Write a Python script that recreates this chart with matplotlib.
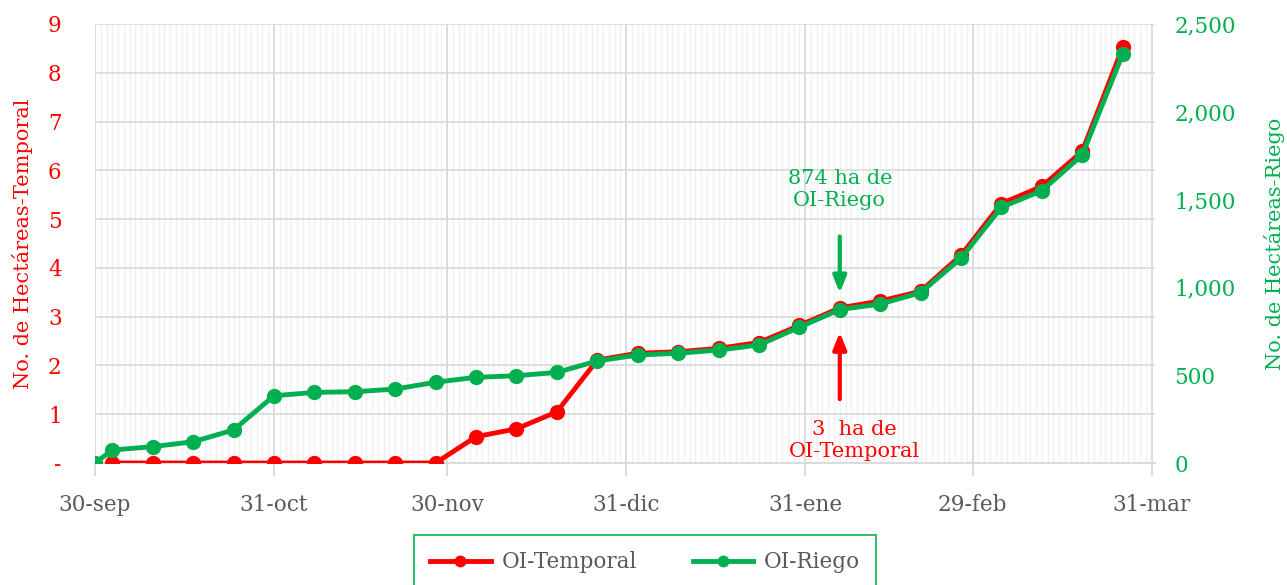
import matplotlib
matplotlib.use("Agg")
import matplotlib.pyplot as plt
import matplotlib.dates as mdates
from matplotlib.ticker import FuncFormatter, MultipleLocator
import datetime as dt

# ---- data ----
temporal_dates = ["2023-10-03", "2023-10-10", "2023-10-17", "2023-10-24", "2023-10-31",
                  "2023-11-07", "2023-11-14", "2023-11-21", "2023-11-28", "2023-12-05",
                  "2023-12-12", "2023-12-19", "2023-12-26", "2024-01-02", "2024-01-09",
                  "2024-01-16", "2024-01-23", "2024-01-30", "2024-02-06", "2024-02-13",
                  "2024-02-20", "2024-02-27", "2024-03-05", "2024-03-12", "2024-03-19",
                  "2024-03-26"]
temporal_values = [0, 0, 0, 0, 0, 0, 0, 0, 0, 0.54, 0.70, 1.05, 2.11, 2.25, 2.28, 2.35,
                   2.47, 2.82, 3.18, 3.32, 3.52, 4.26, 5.32, 5.67, 6.39, 8.52]

riego_dates = ["2023-09-30"] + temporal_dates
riego_values = [0, 74, 93, 121, 188, 383, 402, 406, 421, 460, 488, 497, 516, 581, 615, 625,
                643, 672, 773, 874, 905, 970, 1166, 1456, 1551, 1754, 2329]

month_ticks = ["2023-09-30", "2023-10-31", "2023-11-30", "2023-12-31", "2024-01-31",
               "2024-02-29", "2024-03-31"]
month_labels = ["30-sep", "31-oct", "30-nov", "31-dic", "31-ene", "29-feb", "31-mar"]

RED = "#FF0000"
GREEN = "#00B050"
GRAY_TXT = "#595959"

plt.rcParams['font.family'] = ['DejaVu Serif']

def to_dt(lst):
    return [dt.datetime.strptime(s, "%Y-%m-%d") for s in lst]

td = to_dt(temporal_dates)
rd = to_dt(riego_dates)
mt = to_dt(month_ticks)

fig = plt.figure(figsize=(12.87, 5.85), dpi=100)
ax = fig.add_axes([95/1287, 122/585, 1060/1287, 439/585])
ax2 = ax.twinx()

# grids
ax.set_xlim(mt[0], mt[-1] + dt.timedelta(days=0.6))
ax.xaxis.set_minor_locator(mdates.DayLocator())
ax.set_xticks(mt)
ax.set_xticklabels(month_labels)
ax.grid(which='minor', axis='x', color='#F0F0F0', lw=1.0, zorder=0)
ax.grid(which='major', axis='x', color='#D9D9D9', lw=1.3, zorder=0)
ax.grid(which='major', axis='y', color='#DCDCDC', lw=1.3, zorder=0)
ax.tick_params(axis='x', which='minor', length=0)
ax.tick_params(axis='x', which='major', length=9, color='#D9D9D9', width=1.3,
               labelcolor=GRAY_TXT, labelsize=15.5, pad=13)

ax.set_ylim(0, 9)
ax.yaxis.set_major_locator(MultipleLocator(1))
ax.yaxis.set_major_formatter(FuncFormatter(lambda v, p: "-" if v == 0 else f"{int(v)}"))
ax.tick_params(axis='y', length=0, labelcolor=RED, labelsize=15.5, pad=24)

ax2.set_ylim(0, 2500)
ax2.yaxis.set_major_locator(MultipleLocator(500))
ax2.yaxis.set_major_formatter(FuncFormatter(lambda v, p: f"{int(v):,}"))
ax2.tick_params(axis='y', length=0, labelcolor=GREEN, labelsize=15.5, pad=14)

for a in (ax, ax2):
    for s in a.spines.values():
        s.set_visible(False)
ax.spines['bottom'].set_visible(True)
ax.spines['bottom'].set_color('#D9D9D9')
ax.spines['bottom'].set_linewidth(1.3)

ax.set_ylabel("No. de Hectáreas-Temporal", color=RED, fontsize=15, labelpad=11)
ax2.set_ylabel("No. de Hectáreas-Riego", color=GREEN, fontsize=15, labelpad=20)

# lines
l1, = ax.plot(td, temporal_values, color=RED, lw=3.5, marker='o', markersize=10,
              label="OI-Temporal", zorder=3)
l2, = ax2.plot(rd, riego_values, color=GREEN, lw=3.5, marker='o', markersize=10,
               label="OI-Riego", zorder=4)

# annotations
ann_date = td[18]
ax2.annotate("", xy=(ann_date, 968), xytext=(ann_date, 1290),
             arrowprops=dict(arrowstyle='-|>,head_width=0.4,head_length=1.0', color=GREEN,
                             lw=3, shrinkA=0, shrinkB=0))
ax2.text(ann_date, 1557, "874 ha de\nOI-Riego", color=GREEN, fontsize=15,
         ha='center', va='center', linespacing=1.2)
ax.annotate("", xy=(ann_date, 2.68), xytext=(ann_date, 1.31),
            arrowprops=dict(arrowstyle='-|>,head_width=0.4,head_length=1.0', color=RED,
                            lw=3, shrinkA=0, shrinkB=0))
ax.text(ann_date + dt.timedelta(days=2.6), 0.47, "3  ha de\nOI-Temporal", color=RED, fontsize=15,
        ha='center', va='center', linespacing=1.2)

leg = fig.legend(handles=[l1, l2], loc='upper center', bbox_to_anchor=(645/1287, 50/585),
                 ncol=2, fontsize=15.5, frameon=True, fancybox=False, edgecolor=GREEN,
                 borderpad=0.75, columnspacing=2.6, handlelength=2.8, handletextpad=0.5,
                 markerscale=0.75, borderaxespad=0)
leg.get_frame().set_linewidth(1.5)
for t in leg.get_texts():
    t.set_color(GRAY_TXT)

fig.savefig("out.png", dpi=100)
